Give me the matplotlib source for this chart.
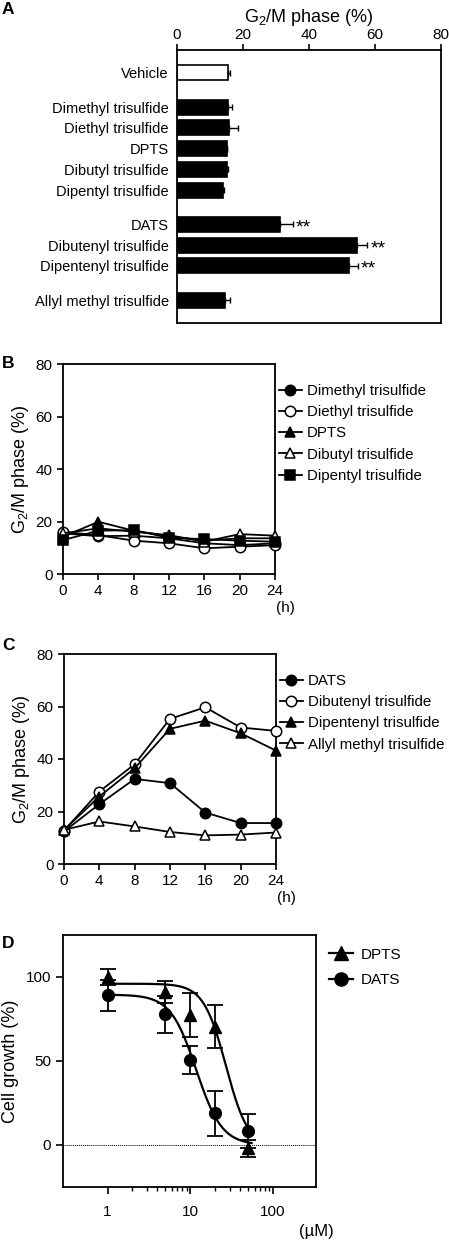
import numpy as np
import matplotlib
matplotlib.use('Agg')
import matplotlib.pyplot as plt
from matplotlib.lines import Line2D
from matplotlib.ticker import FixedLocator, NullFormatter

plt.rcParams['font.family'] = ['Liberation Sans', 'DejaVu Sans']
plt.rcParams['mathtext.default'] = 'regular'
plt.rcParams['font.size'] = 10.5
plt.rcParams['axes.linewidth'] = 1.3
plt.rcParams['xtick.major.width'] = 1.2
plt.rcParams['ytick.major.width'] = 1.2
plt.rcParams['xtick.major.size'] = 4
plt.rcParams['ytick.major.size'] = 4
plt.rcParams['xtick.labelsize'] = 11
plt.rcParams['ytick.labelsize'] = 11

# ---- panel A: G2/M fraction (bars) ----
a_labels = ['Vehicle',
            'Dimethyl trisulfide', 'Diethyl trisulfide', 'DPTS',
            'Dibutyl trisulfide', 'Dipentyl trisulfide',
            'DATS', 'Dibutenyl trisulfide', 'Dipentenyl trisulfide',
            'Allyl methyl trisulfide']
a_means = [15.5, 15.5, 15.7, 15.0, 15.1, 13.9, 31.3, 54.5, 52.0, 14.6]
a_err = [0.7, 1.2, 2.7, 0.3, 0.3, 0.2, 3.7, 3.2, 2.8, 1.4]
a_signif = ['', '', '', '', '', '', '**', '**', '**', '']
a_group_sizes = [1, 5, 3, 1]

# ---- panels B and C: time course ----
t_hours = [0, 4, 8, 12, 16, 20, 24]

b_dimethyl = [15.5, 14.4, 14.6, 13.6, 11.7, 11.0, 11.7]
b_diethyl = [16.0, 14.8, 12.7, 11.7, 9.8, 10.4, 11.0]
b_dpts = [14.2, 19.9, 16.5, 14.4, 12.7, 13.6, 13.6]
b_dibutyl = [15.5, 17.4, 16.1, 14.8, 12.3, 15.2, 14.6]
b_dipentyl = [12.9, 16.5, 16.7, 13.8, 13.3, 12.7, 12.3]

c_dats = [12.4, 22.8, 32.4, 30.8, 19.6, 15.6, 15.6]
c_dibutenyl = [12.7, 27.6, 38.0, 55.3, 59.7, 52.0, 50.7]
c_dipentenyl = [13.0, 25.7, 36.5, 51.5, 54.6, 49.8, 43.2]
c_allyl_methyl = [13.0, 16.2, 14.3, 12.2, 10.9, 11.2, 12.0]

# ---- panel D: dose response ----
d_conc = [1, 5, 10, 20, 50]
d_dpts = [100.0, 91.0, 77.5, 70.5, -2.0]
d_dpts_err = [5.0, 6.5, 13.0, 13.0, 5.0]
d_dats = [89.0, 77.7, 50.6, 18.9, 8.4]
d_dats_err = [9.4, 11.0, 8.3, 13.4, 10.0]
# 4-parameter logistic fits (top, bottom, EC50, hill)
d_dpts_fit = (96.0, -2.0, 27.0, 3.2)
d_dats_fit = (89.5, 0.0, 11.8, 2.8)

W, H = 449, 1242
fig = plt.figure(figsize=(W / 100, H / 100), dpi=100)


def px_axes(left, top, right, bottom):
    return fig.add_axes([left / W, 1 - bottom / H, (right - left) / W, (bottom - top) / H])


def panel_letter(x, y, s):
    fig.text(x / W, 1 - y / H, s, fontsize=12.5, fontweight='bold', ha='left', va='center')


# ================= A =================
axA = px_axes(177, 50, 441, 323)
gap = 0.65
pos = []
p = 0.0
for n in a_group_sizes:
    for k in range(n):
        pos.append(p)
        p += 1
    p += gap
face = ['white'] + ['black'] * (len(a_labels) - 1)
axA.barh(pos, a_means, height=0.72, color=face, edgecolor='black', linewidth=1.2)
axA.errorbar(a_means, pos, xerr=[np.zeros(len(a_err)), a_err], fmt='none',
             ecolor='black', elinewidth=1.0, capsize=2.5, capthick=1.0)
for y, m, e, s in zip(pos, a_means, a_err, a_signif):
    if s:
        axA.text(m + e + 1.0, y + 0.17, s, ha='left', va='center', fontsize=14)
axA.set_xlim(0, 80)
axA.set_ylim(pos[-1] + 1.1, pos[0] - 1.1)
axA.set_yticks(pos)
axA.set_yticklabels(a_labels, fontsize=10.5)
axA.tick_params(axis='y', length=0, pad=6)
axA.set_xticks([0, 20, 40, 60, 80])
axA.xaxis.tick_top()
axA.xaxis.set_label_position('top')
axA.tick_params(axis='x', direction='out', pad=2)
axA.set_xlabel('G$_2$/M phase (%)', labelpad=4, fontsize=13)
panel_letter(2, 10, 'A')


# ================= B & C =================
def time_panel(ax, series, labels, styles, legend_top):
    for ys, lab, (mk, fc) in zip(series, labels, styles):
        ax.plot(t_hours, ys, color='black', lw=1.3, marker=mk, markersize=7.5,
                markerfacecolor=fc, markeredgecolor='black', markeredgewidth=1.1,
                label=lab, clip_on=False, zorder=3)
    ax.set_xlim(0, 24)
    ax.set_ylim(0, 80)
    ax.set_xticks(t_hours)
    ax.set_yticks([0, 20, 40, 60, 80])
    ax.tick_params(direction='out')
    ax.set_ylabel('G$_2$/M phase (%)', fontsize=13, labelpad=3)
    ax.text(1.05, -0.13, '(h)', transform=ax.transAxes, ha='center', va='top', fontsize=11)
    ax.legend(loc='upper left', bbox_to_anchor=(1.02, legend_top), frameon=False,
              borderaxespad=0, borderpad=0, handlelength=1.5, handletextpad=0.35,
              labelspacing=0.48, fontsize=10.8)


axB = px_axes(63, 364, 275, 574)
time_panel(axB, [b_dimethyl, b_diethyl, b_dpts, b_dibutyl, b_dipentyl],
           ['Dimethyl trisulfide', 'Diethyl trisulfide', 'DPTS',
            'Dibutyl trisulfide', 'Dipentyl trisulfide'],
           [('o', 'black'), ('o', 'white'), ('^', 'black'), ('^', 'white'), ('s', 'black')],
           0.905)
panel_letter(2, 363, 'B')

axC = px_axes(64, 654, 276, 864)
time_panel(axC, [c_dats, c_dibutenyl, c_dipentenyl, c_allyl_methyl],
           ['DATS', 'Dibutenyl trisulfide', 'Dipentenyl trisulfide',
            'Allyl methyl trisulfide'],
           [('o', 'black'), ('o', 'white'), ('^', 'black'), ('^', 'white')],
           0.905)
panel_letter(2, 645, 'C')

# ================= D =================
axD = px_axes(63, 935, 316, 1187)


def logistic(x, top, bottom, ec50, hill):
    return bottom + (top - bottom) / (1 + (x / ec50) ** hill)


xs = np.logspace(0, np.log10(55), 200)
axD.plot(xs, logistic(xs, *d_dpts_fit), color='black', lw=1.6)
axD.plot(xs, logistic(xs, *d_dats_fit), color='black', lw=1.6)
axD.errorbar(d_conc, d_dpts, yerr=d_dpts_err, fmt='^', color='black', ms=8,
             elinewidth=1.3, capsize=5.5, capthick=1.3)
axD.errorbar(d_conc, d_dats, yerr=d_dats_err, fmt='o', color='black', ms=8.5,
             elinewidth=1.3, capsize=5.5, capthick=1.3)
axD.axhline(0, color='black', lw=0.7, ls=(0, (1, 1)))
axD.set_xscale('log')
axD.set_xlim(0.29, 330)
axD.set_ylim(-25, 125)
axD.set_yticks([0, 50, 100])
axD.xaxis.set_major_locator(FixedLocator([1, 10, 100]))
axD.set_xticklabels(['1', '10', '100'])
axD.xaxis.set_minor_locator(FixedLocator([2, 3, 4, 5, 6, 7, 8, 9,
                                          20, 30, 40, 50, 60, 70, 80, 90]))
axD.xaxis.set_minor_formatter(NullFormatter())
axD.tick_params(which='major', direction='out', length=5)
axD.tick_params(which='minor', direction='out', length=3, width=1.0)
axD.tick_params(axis='x', pad=8)
axD.set_ylabel('Cell growth (%)', fontsize=13, labelpad=5)
axD.text(1.0, -0.178, '(\u00b5M)', transform=axD.transAxes, ha='center', va='center',
         fontsize=12)
d_handles = [Line2D([], [], color='black', lw=1.6, marker='^', ms=9.5),
             Line2D([], [], color='black', lw=1.6, marker='o', ms=9.5)]
axD.legend(d_handles, ['DPTS', 'DATS'], loc='upper left', bbox_to_anchor=(1.05, 0.95),
           frameon=False, borderaxespad=0, borderpad=0, handlelength=1.6,
           handletextpad=0.5, labelspacing=0.75, fontsize=11)
panel_letter(2, 943, 'D')

fig.savefig('out.png', dpi=100)
